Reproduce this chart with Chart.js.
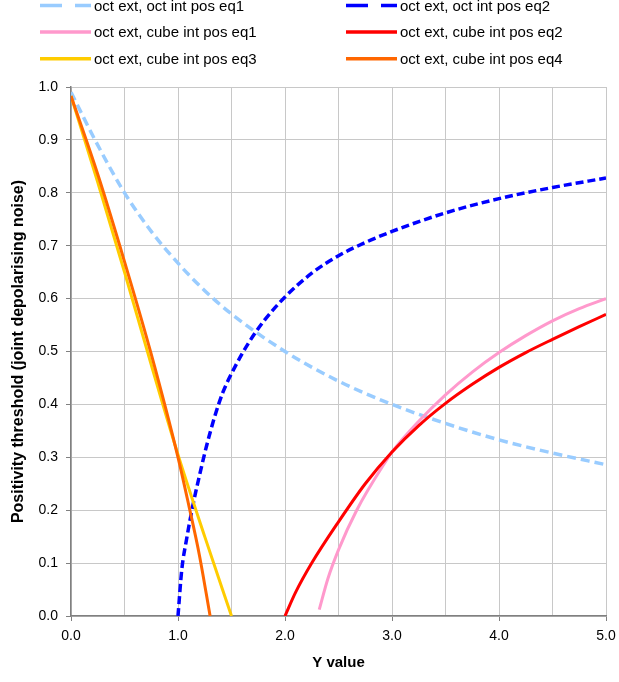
<!DOCTYPE html>
<html>
<head>
<meta charset="utf-8">
<script src="https://cdn.jsdelivr.net/npm/chart.js@4.4.1/dist/chart.umd.min.js"></script>
<style>
  html, body { margin: 0; padding: 0; background: #fff; }
  #wrap { width: 619px; height: 682px; }
</style>
</head>
<body>
<div id="wrap"><canvas id="chart" width="619" height="682"></canvas></div>
<script>
// series labels, in legend order
const seriesLabels = [
  "oct ext, oct int pos eq1",
  "oct ext, oct int pos eq2",
  "oct ext, cube int pos eq1",
  "oct ext, cube int pos eq2",
  "oct ext, cube int pos eq3",
  "oct ext, cube int pos eq4",
];

// values (x = Y value, y = threshold)
const octEq1X = [0, 0.25, 0.5, 0.75, 1.0, 1.25, 1.5, 2.0, 2.5, 3.0, 3.5, 4.0, 4.5, 5.0];
const octEq1Y = [0.99, 0.89, 0.80, 0.727, 0.667, 0.615, 0.571, 0.50, 0.444, 0.40, 0.364, 0.333, 0.308, 0.286];

const octEq2X = [1.0, 1.035, 1.08, 1.14, 1.2, 1.265, 1.34, 1.42, 1.53, 1.65, 1.8, 2.0, 2.25, 2.5, 2.75, 3.0, 3.5, 4.0, 4.5, 5.0];
const octEq2Y = [0.0, 0.087, 0.145, 0.21, 0.265, 0.32, 0.375, 0.423, 0.47, 0.513, 0.557, 0.603, 0.648, 0.681, 0.706, 0.727, 0.762, 0.789, 0.81, 0.828];

const cubeEq1X = [2.32, 2.4, 2.5, 2.67, 2.95, 3.0, 3.25, 3.5, 3.75, 4.0, 4.25, 4.5, 4.75, 5.0];
const cubeEq1Y = [0.012, 0.07, 0.125, 0.20, 0.295, 0.31, 0.368, 0.418, 0.461, 0.498, 0.53, 0.558, 0.581, 0.60];

const cubeEq2X = [2.0, 2.1, 2.25, 2.5, 2.75, 3.0, 3.25, 3.5, 3.75, 4.0, 4.25, 4.5, 4.75, 5.0];
const cubeEq2Y = [0.0, 0.045, 0.10, 0.178, 0.25, 0.31, 0.36, 0.402, 0.438, 0.47, 0.498, 0.523, 0.547, 0.57];

const cubeEq3X = [0, 0.25, 0.5, 0.75, 1.0, 1.25, 1.5];
const cubeEq3Y = [0.983, 0.82, 0.65, 0.475, 0.305, 0.15, 0.0];

const cubeEq4X = [0, 0.25, 0.5, 0.75, 1.0, 1.1, 1.2, 1.3];
const cubeEq4Y = [0.983, 0.835, 0.67, 0.495, 0.30, 0.21, 0.115, 0.0];

const seriesX = [octEq1X, octEq2X, cubeEq1X, cubeEq2X, cubeEq3X, cubeEq4X];
const seriesY = [octEq1Y, octEq2Y, cubeEq1Y, cubeEq2Y, cubeEq3Y, cubeEq4Y];
const seriesColors = ["#99CCFF", "#0000FF", "#FF99CC", "#FF0000", "#FFCC00", "#FF6600"];

const FONT = "'Liberation Sans', Arial, sans-serif";

const styles = [
  { borderWidth: 3.5, borderDash: [9, 5] },
  { borderWidth: 3.5, borderDash: [8, 4] },
  { borderWidth: 3, borderDash: [] },
  { borderWidth: 3, borderDash: [] },
  { borderWidth: 3, borderDash: [] },
  { borderWidth: 3, borderDash: [] },
];

const datasets = seriesLabels.map((label, i) => ({
  label: label,
  data: seriesX[i].map((x, j) => ({ x: x, y: seriesY[i][j] })),
  borderColor: seriesColors[i],
  backgroundColor: seriesColors[i],
  borderWidth: styles[i].borderWidth,
  borderDash: styles[i].borderDash,
  pointRadius: 0,
  fill: false,
  cubicInterpolationMode: "monotone",
  order: seriesLabels.length - i, // later series drawn on top
}));

// two-column legend drawn at the top of the canvas
const topLegend = {
  id: "topLegend",
  afterDraw(chart) {
    const ctx = chart.ctx;
    const cols = [40, 346];
    const rows = [5.5, 32, 58.7];
    ctx.save();
    chart.data.datasets.forEach((ds, i) => {
      const x = cols[i % 2];
      const y = rows[Math.floor(i / 2)];
      ctx.strokeStyle = ds.borderColor;
      ctx.lineWidth = 3.5;
      ctx.setLineDash(ds.borderDash.length ? [22, 13] : []);
      ctx.beginPath();
      ctx.moveTo(x, y);
      ctx.lineTo(x + 51, y);
      ctx.stroke();
      ctx.setLineDash([]);
      ctx.fillStyle = "#000";
      ctx.font = "15px " + FONT;
      ctx.textBaseline = "middle";
      ctx.fillText(ds.label, x + 54, y + 1);
    });
    ctx.restore();
  },
};

new Chart(document.getElementById("chart"), {
  type: "line",
  data: { datasets: datasets },
  plugins: [topLegend],
  options: {
    responsive: false,
    animation: false,
    layout: { padding: { top: 87, right: 13, left: 0, bottom: 0 } },
    plugins: {
      legend: { display: false },
      tooltip: { enabled: false },
    },
    scales: {
      x: {
        type: "linear",
        min: 0,
        max: 5,
        afterFit: (scale) => {
          scale.height = 66;
          scale.paddingLeft = 0;
          scale.paddingRight = 0;
        },
        ticks: {
          stepSize: 0.5,
          autoSkip: false,
          maxRotation: 0,
          padding: 7,
          color: "#000",
          font: { family: FONT, size: 14 },
          callback: (v) => (Number.isInteger(v) ? v.toFixed(1) : ""),
        },
        grid: {
          color: "#c8c8c8",
          lineWidth: 1,
          tickLength: 5,
          tickColor: (c) => (c.tick && Number.isInteger(c.tick.value) ? "#808080" : "rgba(0,0,0,0)"),
        },
        border: { color: "#808080", width: 1.5 },
        title: {
          display: true,
          text: "Y value",
          color: "#000",
          font: { family: FONT, size: 15, weight: "bold" },
          padding: { top: 0, bottom: 10 },
        },
      },
      y: {
        min: 0,
        max: 1,
        afterFit: (scale) => { scale.width = 71; },
        ticks: {
          stepSize: 0.1,
          padding: 8,
          color: "#000",
          font: { family: FONT, size: 14 },
          callback: (v) => v.toFixed(1),
        },
        grid: {
          color: "#c8c8c8",
          lineWidth: 1,
          tickLength: 5,
          tickColor: "#808080",
        },
        border: { color: "#808080", width: 1.5 },
        title: {
          display: true,
          text: "Positivity threshold (joint depolarising noise)",
          color: "#000",
          font: { family: FONT, size: 16, weight: "bold" },
          padding: { top: 9, bottom: 0 },
        },
      },
    },
  },
});
</script>
</body>
</html>
